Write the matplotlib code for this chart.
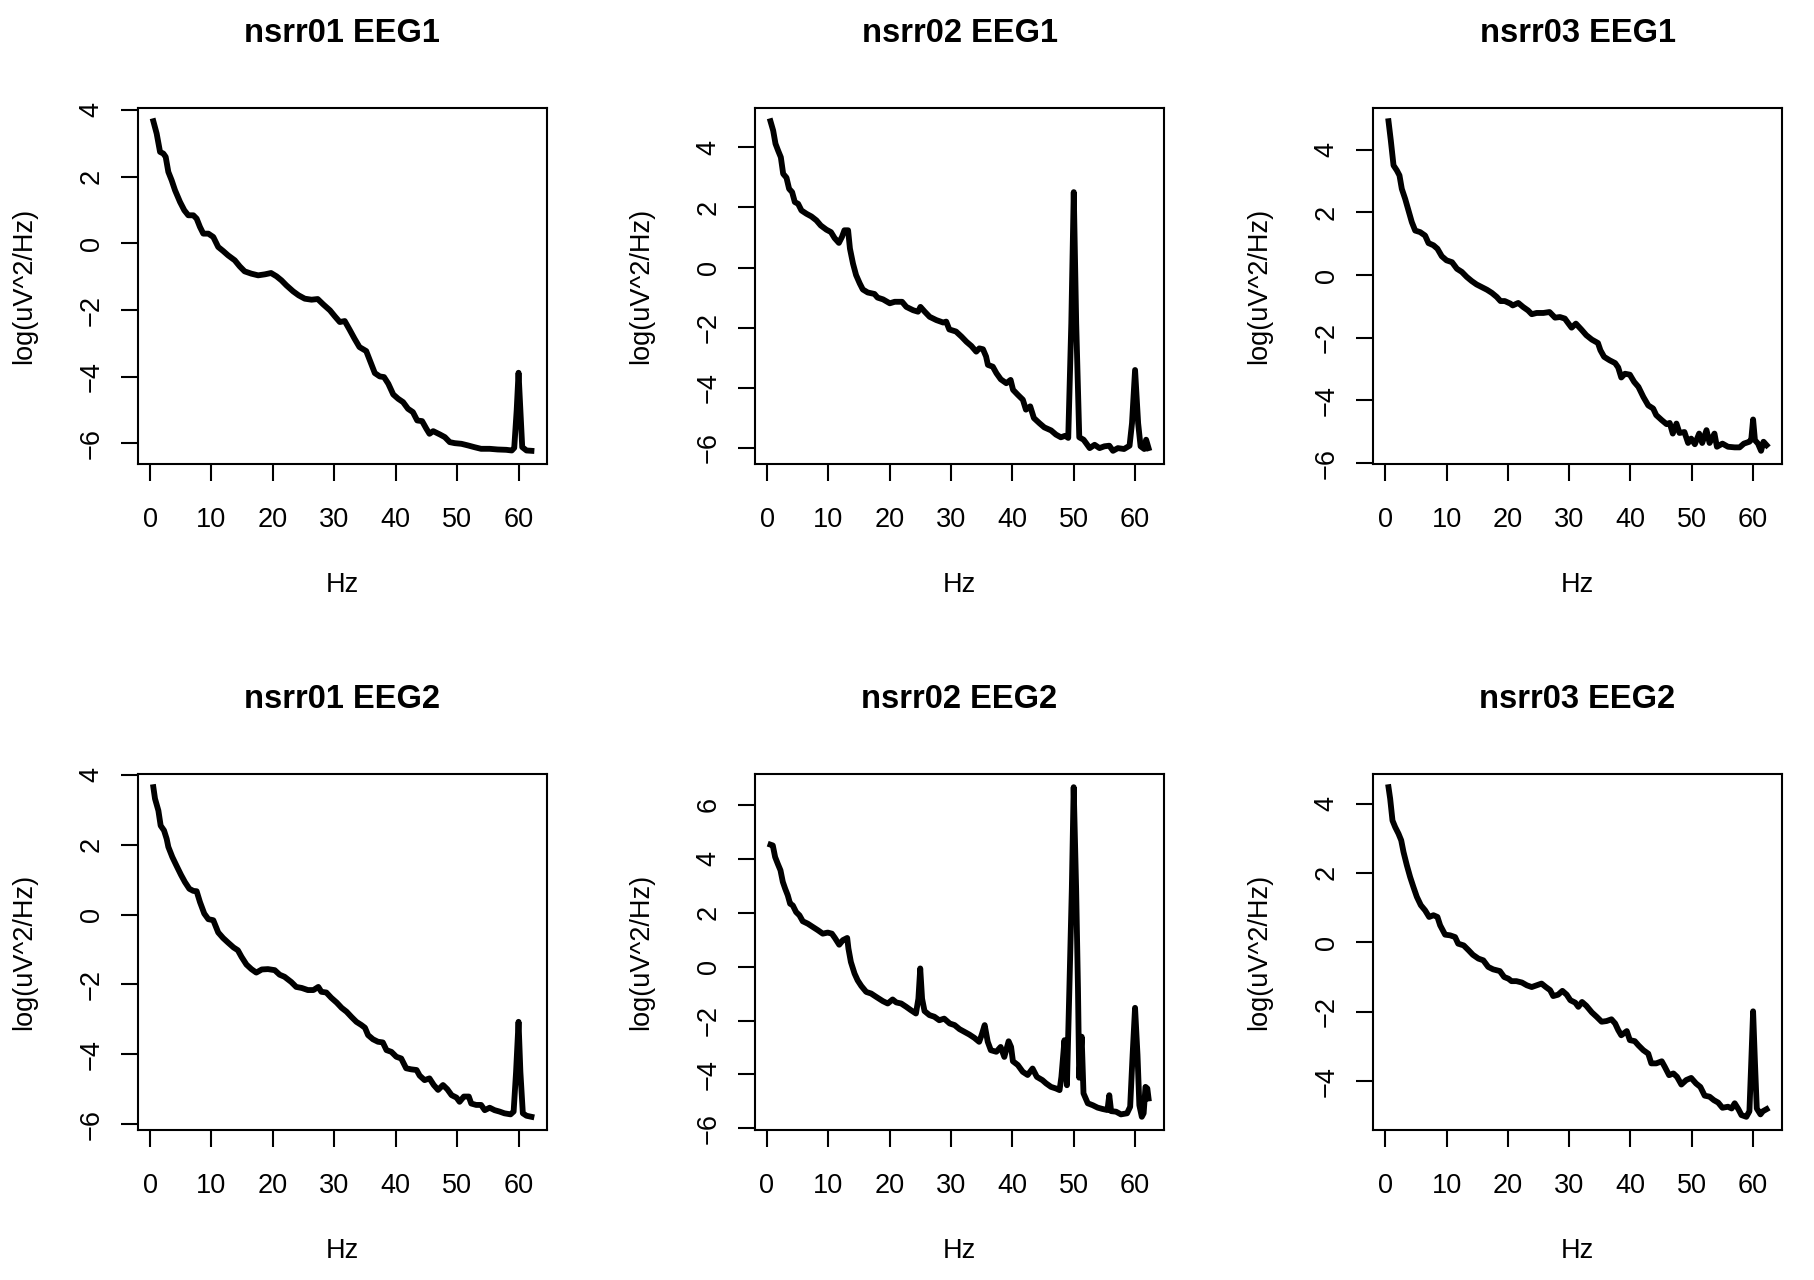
import matplotlib
matplotlib.use("Agg")
import matplotlib.pyplot as plt
from matplotlib.ticker import MultipleLocator

plt.rcParams['font.family'] = ['Liberation Sans', 'DejaVu Sans']

titles = ["nsrr01 EEG1", "nsrr02 EEG1", "nsrr03 EEG1",
          "nsrr01 EEG2", "nsrr02 EEG2", "nsrr03 EEG2"]

# log power spectra (Hz, log(uV^2/Hz))
hz_01_eeg1 = [0.54, 1.08, 1.63, 2.17, 2.55, 2.98, 3.52, 4.07, 4.88, 5.58, 6.23, 7.05, 7.59, 8.13, 8.67,
              9.49, 10.3, 11.1, 11.9, 12.7, 13.8, 14.6, 15.4, 16.5, 17.6, 18.7, 19.7, 20.6, 21.4, 22.2,
              23.3, 24.2, 25.2, 26.3, 27.3, 28.2, 29.3, 30.1, 30.9, 31.7, 32.5, 33.3, 34.1, 35.2, 35.9,
              36.6, 37.4, 38.1, 38.8, 39.6, 40.4, 41.2, 42.0, 42.8, 43.5, 44.3, 45.0, 45.5, 46.1, 47.2,
              48.0, 48.8, 49.6, 50.7, 51.8, 52.8, 53.9, 55.3, 56.6, 58.0, 58.9, 59.3, 59.7, 60.0, 60.3,
              60.6, 61.3, 62.1]
psd_01_eeg1 = [3.66, 3.29, 2.74, 2.69, 2.59, 2.14, 1.89, 1.59, 1.24, 0.99, 0.84, 0.84, 0.74, 0.49, 0.29,
               0.29, 0.19, -0.11, -0.23, -0.36, -0.51, -0.69, -0.84, -0.91, -0.96, -0.93, -0.89, -0.99, -1.11, -1.26,
               -1.44, -1.56, -1.66, -1.69, -1.67, -1.83, -2.01, -2.19, -2.36, -2.33, -2.59, -2.86, -3.11, -3.23, -3.56,
               -3.89, -3.99, -4.01, -4.21, -4.53, -4.66, -4.76, -4.96, -5.06, -5.31, -5.33, -5.56, -5.71, -5.63, -5.73,
               -5.81, -5.96, -5.99, -6.01, -6.06, -6.11, -6.16, -6.16, -6.18, -6.19, -6.21, -6.13, -5.0, -3.88, -5.0,
               -6.11, -6.21, -6.22]

hz_02_eeg1 = [0.54, 0.98, 1.36, 1.79, 2.23, 2.61, 3.15, 3.58, 4.07, 4.51, 5.05, 5.59, 6.41, 7.22, 8.03,
              8.74, 9.66, 10.4, 11.0, 11.7, 12.2, 12.6, 13.2, 13.5, 14.0, 14.5, 15.1, 15.6, 16.4, 17.5,
              18.0, 18.9, 20.0, 20.8, 22.0, 22.7, 23.8, 24.6, 25.0, 25.7, 26.5, 27.6, 28.7, 29.2, 29.7,
              30.8, 31.7, 32.5, 33.3, 34.1, 34.6, 35.2, 35.7, 36.0, 36.8, 37.4, 38.1, 39.0, 39.7, 40.1,
              40.9, 41.7, 42.2, 42.9, 43.5, 44.4, 45.2, 46.3, 47.1, 47.9, 48.6, 49.1, 49.6, 50.0, 50.4,
              50.9, 51.6, 52.0, 52.6, 53.4, 54.2, 55.0, 55.8, 56.4, 57.2, 58.2, 59.1, 59.5, 60.0, 60.5,
              60.9, 61.5, 61.8, 62.2]
psd_02_eeg1 = [4.87, 4.56, 4.12, 3.89, 3.67, 3.12, 2.99, 2.62, 2.51, 2.18, 2.12, 1.90, 1.79, 1.70, 1.57,
               1.40, 1.26, 1.18, 0.98, 0.82, 1.02, 1.24, 1.24, 0.63, 0.13, -0.25, -0.53, -0.73, -0.83, -0.88,
               -1.0, -1.06, -1.19, -1.14, -1.14, -1.31, -1.42, -1.47, -1.31, -1.47, -1.64, -1.75, -1.83, -1.80, -2.06,
               -2.13, -2.30, -2.47, -2.61, -2.80, -2.69, -2.72, -2.96, -3.24, -3.30, -3.52, -3.72, -3.85, -3.74, -4.07,
               -4.24, -4.40, -4.73, -4.62, -5.01, -5.18, -5.32, -5.42, -5.56, -5.65, -5.60, -5.67, -1.86, 2.51, -1.86,
               -5.65, -5.73, -5.84, -6.01, -5.90, -6.01, -5.95, -5.93, -6.10, -6.01, -6.04, -5.93, -5.18, -3.41, -5.18,
               -5.95, -6.04, -5.73, -6.01]

hz_03_eeg1 = [0.54, 0.92, 1.36, 1.90, 2.33, 2.71, 3.26, 3.80, 4.34, 4.89, 5.70, 6.51, 7.06, 7.87, 8.52,
              9.23, 10.0, 10.9, 11.7, 12.5, 13.3, 14.1, 14.9, 15.7, 16.6, 17.4, 18.2, 18.8, 19.5, 20.4,
              20.8, 21.7, 22.5, 23.3, 23.9, 24.7, 25.8, 26.8, 27.7, 28.5, 29.3, 29.9, 30.4, 31.1, 32.0,
              32.8, 33.7, 34.7, 35.1, 35.7, 36.6, 37.5, 38.0, 38.5, 39.1, 39.9, 40.6, 41.3, 42.1, 42.9,
              43.7, 44.2, 45.1, 45.9, 46.4, 46.9, 47.5, 48.0, 48.8, 49.4, 49.9, 50.5, 51.2, 51.7, 52.4,
              52.9, 53.7, 54.1, 55.0, 55.9, 57.0, 57.8, 58.5, 59.4, 59.7, 60.0, 60.3, 60.8, 61.3, 61.7,
              62.2]
psd_03_eeg1 = [4.91, 4.29, 3.50, 3.34, 3.18, 2.75, 2.43, 2.06, 1.69, 1.42, 1.37, 1.26, 1.02, 0.95, 0.84,
               0.60, 0.47, 0.41, 0.20, 0.10, -0.06, -0.19, -0.30, -0.38, -0.47, -0.57, -0.70, -0.83, -0.83, -0.91,
               -0.97, -0.89, -1.02, -1.13, -1.25, -1.21, -1.21, -1.18, -1.36, -1.34, -1.39, -1.55, -1.68, -1.55, -1.74,
               -1.92, -2.06, -2.17, -2.40, -2.61, -2.72, -2.81, -2.95, -3.27, -3.15, -3.18, -3.41, -3.57, -3.89, -4.16,
               -4.26, -4.47, -4.63, -4.76, -4.72, -5.06, -4.74, -5.04, -5.01, -5.36, -5.22, -5.40, -5.06, -5.36, -4.95,
               -5.36, -5.06, -5.48, -5.38, -5.48, -5.50, -5.50, -5.38, -5.32, -5.25, -4.61, -5.27, -5.38, -5.61, -5.32,
               -5.43]

hz_01_eeg2 = [0.54, 0.81, 1.36, 1.73, 2.28, 2.71, 2.98, 3.63, 4.34, 5.04, 5.69, 6.40, 7.05, 7.59, 8.13,
              8.83, 9.49, 10.3, 11.1, 11.9, 12.7, 13.6, 14.3, 14.9, 15.7, 16.5, 17.3, 18.2, 19.2, 20.3,
              21.1, 21.9, 23.0, 23.8, 24.7, 25.7, 26.6, 27.4, 27.9, 28.7, 29.5, 30.4, 31.2, 32.0, 32.8,
              33.6, 34.4, 35.0, 35.5, 36.3, 37.1, 37.9, 38.5, 39.3, 40.1, 40.9, 41.7, 42.5, 43.4, 43.9,
              44.7, 45.5, 46.2, 46.9, 47.7, 48.4, 49.1, 49.9, 50.4, 51.1, 51.9, 52.3, 53.1, 53.9, 54.5,
              55.3, 56.1, 56.9, 57.7, 58.7, 59.2, 59.6, 60.0, 60.3, 60.7, 61.3, 62.1]
psd_01_eeg2 = [3.65, 3.32, 2.98, 2.55, 2.41, 2.17, 1.94, 1.65, 1.39, 1.14, 0.93, 0.74, 0.68, 0.67, 0.36,
               0.03, -0.13, -0.16, -0.51, -0.67, -0.80, -0.94, -1.02, -1.21, -1.43, -1.56, -1.66, -1.57, -1.56, -1.59,
               -1.72, -1.78, -1.93, -2.07, -2.10, -2.16, -2.16, -2.07, -2.21, -2.23, -2.38, -2.52, -2.67, -2.78, -2.93,
               -3.07, -3.16, -3.24, -3.45, -3.57, -3.64, -3.66, -3.88, -3.93, -4.07, -4.12, -4.40, -4.43, -4.45, -4.61,
               -4.74, -4.69, -4.88, -5.02, -4.88, -5.00, -5.17, -5.24, -5.36, -5.21, -5.21, -5.41, -5.45, -5.45, -5.60,
               -5.53, -5.60, -5.64, -5.69, -5.72, -5.64, -4.50, -3.07, -4.50, -5.69, -5.76, -5.79]

hz_02_eeg2 = [0.60, 0.98, 1.36, 1.79, 2.23, 2.61, 2.99, 3.42, 3.80, 4.23, 4.78, 5.32, 5.86, 6.68, 7.49,
              8.31, 9.12, 9.93, 10.6, 11.1, 11.8, 12.4, 13.1, 13.3, 13.7, 14.3, 14.8, 15.4, 16.2, 17.0,
              17.8, 18.9, 19.7, 20.5, 21.1, 21.9, 22.7, 23.5, 24.3, 24.7, 25.0, 25.3, 25.7, 26.5, 27.3,
              28.1, 28.9, 29.8, 30.6, 31.4, 32.2, 33.0, 33.8, 34.6, 35.0, 35.5, 36.0, 36.5, 37.4, 38.1,
              38.7, 39.4, 39.8, 40.1, 40.9, 41.7, 42.5, 43.3, 44.0, 44.9, 45.5, 46.3, 47.1, 47.7, 48.0,
              48.5, 48.9, 49.3, 49.7, 50.0, 50.4, 50.7, 50.9, 51.3, 51.6, 52.3, 53.1, 53.9, 54.7, 55.5,
              55.8, 56.1, 56.9, 57.7, 58.7, 59.2, 59.6, 60.0, 60.4, 60.7, 61.1, 61.4, 61.7, 62.0, 62.2]
psd_02_eeg2 = [4.52, 4.49, 4.06, 3.81, 3.57, 3.14, 2.89, 2.64, 2.33, 2.27, 2.02, 1.90, 1.68, 1.59, 1.47,
               1.35, 1.22, 1.26, 1.22, 1.06, 0.81, 0.98, 1.06, 0.67, 0.17, -0.26, -0.51, -0.72, -0.94, -1.00,
               -1.12, -1.28, -1.37, -1.22, -1.33, -1.37, -1.49, -1.62, -1.74, -1.19, -0.07, -1.19, -1.65, -1.80, -1.86,
               -1.99, -1.93, -2.11, -2.17, -2.32, -2.42, -2.52, -2.64, -2.79, -2.54, -2.17, -2.79, -3.10, -3.16, -2.98,
               -3.35, -2.77, -2.98, -3.51, -3.65, -3.90, -4.02, -3.78, -4.09, -4.21, -4.33, -4.46, -4.52, -4.58, -4.09,
               -2.73, -4.40, -0.81, 2.89, 6.65, 2.89, -0.81, -4.12, -2.60, -4.70, -5.07, -5.14, -5.23, -5.28, -5.32,
               -4.77, -5.36, -5.38, -5.48, -5.44, -5.20, -3.28, -1.53, -3.28, -5.14, -5.57, -5.44, -4.46, -4.52, -4.89]

hz_03_eeg2 = [0.54, 0.81, 1.19, 1.63, 2.17, 2.61, 2.99, 3.53, 4.07, 4.61, 5.16, 5.81, 6.51, 7.17, 7.87,
              8.52, 8.96, 9.77, 10.6, 11.4, 11.9, 12.8, 13.6, 14.3, 15.2, 16.0, 16.8, 17.6, 18.7, 19.4,
              20.1, 20.6, 21.4, 22.3, 23.1, 23.9, 24.7, 25.5, 26.2, 26.9, 27.4, 28.2, 28.9, 29.6, 30.2,
              31.0, 31.5, 32.1, 32.8, 33.7, 34.5, 35.3, 36.1, 36.9, 37.5, 38.0, 38.5, 39.4, 39.9, 40.7,
              41.3, 42.1, 42.9, 43.4, 44.2, 45.1, 45.6, 46.3, 47.0, 47.6, 48.3, 49.1, 49.9, 50.7, 51.4,
              52.1, 52.9, 53.6, 54.3, 55.0, 55.9, 56.5, 57.0, 57.6, 58.1, 58.9, 59.4, 59.7, 60.0, 60.3,
              60.6, 61.2, 61.6, 62.2]
psd_03_eeg2 = [4.47, 4.14, 3.51, 3.32, 3.13, 2.94, 2.60, 2.22, 1.88, 1.59, 1.31, 1.07, 0.92, 0.73, 0.78,
               0.73, 0.49, 0.22, 0.20, 0.15, -0.04, -0.09, -0.23, -0.36, -0.47, -0.52, -0.71, -0.78, -0.83, -1.00,
               -1.05, -1.12, -1.12, -1.16, -1.24, -1.29, -1.24, -1.19, -1.29, -1.38, -1.55, -1.51, -1.40, -1.51, -1.67,
               -1.74, -1.86, -1.72, -1.83, -2.02, -2.15, -2.29, -2.27, -2.22, -2.34, -2.53, -2.68, -2.56, -2.82, -2.85,
               -2.97, -3.11, -3.21, -3.49, -3.49, -3.43, -3.59, -3.83, -3.78, -3.88, -4.10, -3.97, -3.91, -4.07, -4.17,
               -4.42, -4.45, -4.55, -4.62, -4.77, -4.74, -4.79, -4.64, -4.81, -4.98, -5.03, -4.87, -3.45, -1.99, -3.45,
               -4.79, -4.96, -4.87, -4.81]

freqs = [hz_01_eeg1, hz_02_eeg1, hz_03_eeg1, hz_01_eeg2, hz_02_eeg2, hz_03_eeg2]
powers = [psd_01_eeg1, psd_02_eeg1, psd_03_eeg1, psd_01_eeg2, psd_02_eeg2, psd_03_eeg2]

fig = plt.figure(figsize=(18.14, 12.8), dpi=100)

col_left = [0.0762, 0.4164, 0.7571]
row_bottom = [0.6375, 0.1172]
w, h = 0.2251, 0.2781


def r_range(vals):
    # base R pads the data range by 4% on each side
    lo, hi = min(vals), max(vals)
    pad = 0.04 * (hi - lo)
    return lo - pad, hi + pad


for i in range(6):
    ax = fig.add_axes([col_left[i % 3], row_bottom[i // 3], w, h])
    ax.plot(freqs[i], powers[i], color="black", linewidth=4.2, solid_joinstyle="round")
    ax.set_xlim(*r_range(freqs[i]))
    ax.set_ylim(*r_range(powers[i]))
    ax.xaxis.set_major_locator(MultipleLocator(10))
    ax.yaxis.set_major_locator(MultipleLocator(2))
    ax.set_xticks([t for t in range(0, 61, 10)])
    for s in ax.spines.values():
        s.set_linewidth(1.5)
    ax.tick_params(direction="out", length=12.2, width=1.5, labelsize=19.5)
    ax.tick_params(axis="x", pad=19)
    ax.tick_params(axis="y", pad=12, labelrotation=90)
    for lab in ax.get_yticklabels():
        lab.set_verticalalignment("center")
    ax.set_title(titles[i], fontsize=23.5, fontweight="bold", y=1.186, va="center")
    ax.set_xlabel("Hz", fontsize=19.5, va="center")
    ax.set_ylabel("log(uV^2/Hz)", fontsize=19.5, va="center")
    ax.xaxis.set_label_coords(0.5, -0.34)
    ax.yaxis.set_label_coords(-0.28, 0.5)

fig.savefig("out.png", dpi=100)
plt.close(fig)
